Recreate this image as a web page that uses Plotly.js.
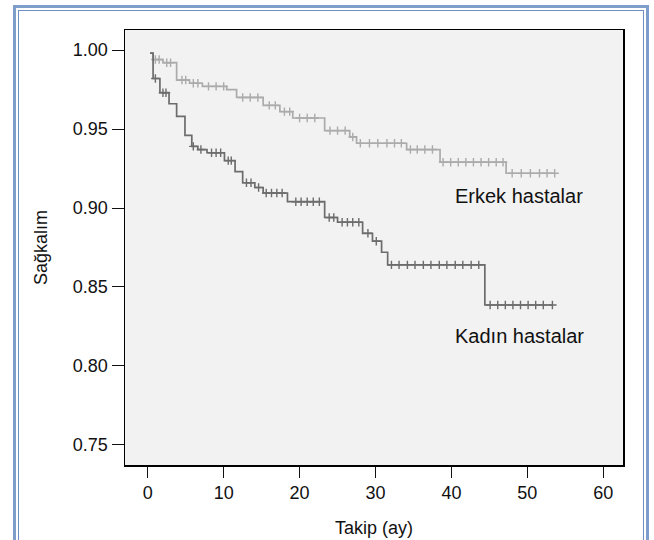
<!DOCTYPE html>
<html>
<head>
<meta charset="utf-8">
<script src="https://cdn.plot.ly/plotly-3.0.1.min.js"></script>
<style>
  html, body { margin: 0; padding: 0; background: #ffffff; }
  #wrap { position: relative; width: 654px; height: 540px; overflow: hidden; }
  #chart { position: absolute; left: 0; top: 0; width: 654px; height: 540px; }
  #frameOuter { position: absolute; left: 13px; top: 5px; width: 630px; height: 600px;
    border: 3px solid #7f9dcc; pointer-events: none; }
  #frameInner { position: absolute; left: 2px; top: 2px; right: 2px; bottom: 2px;
    border: 1px solid #6f8fc4; }
</style>
</head>
<body>
<div id="wrap">
  <div id="chart"></div>
  <div id="frameOuter"><div id="frameInner"></div></div>
</div>
<script>
// Erkek hastalar (male) Kaplan-Meier step curve
var maleTimes = [0.3, 0.7, 2.0, 3.8, 5.5, 7.2, 10.4, 11.7, 15.2, 17.4, 19.1, 23.3, 26.6, 27.5, 34.1, 38.5, 47.2, 53.6];
var maleSurv  = [0.998, 0.994, 0.992, 0.981, 0.979, 0.977, 0.975, 0.970, 0.965, 0.961, 0.957, 0.949, 0.945, 0.941, 0.937, 0.929, 0.922, 0.922];
var maleCensorTimes = [1.0, 1.5, 2.5, 3.0, 4.5, 5.0, 6.0, 6.6, 8.0, 9.0, 10.0, 12.5, 13.5, 14.5, 16.0, 16.8, 18.0, 18.7, 20.0, 21.0, 22.0, 24.0, 25.0, 26.0, 27.0, 28.0, 29.2, 30.3, 31.5, 32.5, 33.4, 34.6, 35.5, 36.5, 37.5, 38.9, 39.9, 40.9, 41.9, 42.9, 43.9, 44.9, 45.9, 46.8, 48.0, 49.2, 50.4, 51.6, 52.6, 53.6];

// Kadın hastalar (female) Kaplan-Meier step curve
var femaleTimes = [0.3, 0.7, 1.6, 2.8, 3.8, 4.9, 5.8, 6.6, 7.8, 10.1, 11.5, 12.5, 14.1, 15.2, 18.4, 23.3, 25.0, 28.3, 29.6, 30.8, 31.6, 44.4, 53.4];
var femaleSurv  = [0.998, 0.982, 0.973, 0.966, 0.958, 0.946, 0.939, 0.937, 0.935, 0.930, 0.923, 0.916, 0.913, 0.9095, 0.904, 0.894, 0.891, 0.884, 0.879, 0.872, 0.864, 0.8386, 0.8386];
var femaleCensorTimes = [1.0, 2.0, 2.4, 6.0, 7.0, 8.4, 9.0, 9.6, 10.6, 11.0, 13.0, 13.6, 14.6, 15.6, 16.3, 17.0, 17.7, 19.5, 20.2, 21.0, 21.8, 22.6, 23.9, 24.5, 25.6, 26.3, 27.0, 27.8, 29.0, 30.1, 32.1, 33.1, 34.2, 35.2, 36.3, 37.3, 38.4, 39.4, 40.5, 41.5, 42.6, 43.6, 45.1, 46.1, 47.1, 48.1, 49.1, 50.1, 51.1, 52.1, 53.3];

var xTickVals = [0, 10, 20, 30, 40, 50, 60];
var yTickVals = [0.75, 0.80, 0.85, 0.90, 0.95, 1.00];
var yTickText = ["0.75", "0.80", "0.85", "0.90", "0.95", "1.00"];
var seriesLabels = ["Erkek hastalar", "Kadın hastalar"];

// survival value at a censor time from the step function
function survAt(times, surv, t) {
  var v = surv[0];
  for (var i = 0; i < times.length; i++) { if (times[i] <= t + 1e-9) v = surv[i]; }
  return v;
}
var maleCensorSurv = maleCensorTimes.map(function (t) { return survAt(maleTimes, maleSurv, t); });
var femaleCensorSurv = femaleCensorTimes.map(function (t) { return survAt(femaleTimes, femaleSurv, t); });

var maleColor = '#ababab';
var femaleColor = '#6c6c6c';

var traces = [
  { x: maleTimes, y: maleSurv, mode: 'lines', line: { shape: 'hv', color: maleColor, width: 1.7 }, hoverinfo: 'skip' },
  { x: maleCensorTimes, y: maleCensorSurv, mode: 'markers',
    marker: { symbol: 'cross-thin-open', size: 6, color: maleColor, line: { color: maleColor, width: 1.4 } }, hoverinfo: 'skip' },
  { x: femaleTimes, y: femaleSurv, mode: 'lines', line: { shape: 'hv', color: femaleColor, width: 1.7 }, hoverinfo: 'skip' },
  { x: femaleCensorTimes, y: femaleCensorSurv, mode: 'markers',
    marker: { symbol: 'cross-thin-open', size: 6, color: femaleColor, line: { color: femaleColor, width: 1.4 } }, hoverinfo: 'skip' }
];

var fontFam = 'Liberation Sans, Arial, Helvetica, sans-serif';

var layout = {
  width: 654, height: 540,
  margin: { l: 125, r: 31, t: 30, b: 75 },
  paper_bgcolor: '#ffffff',
  plot_bgcolor: '#f2f2f2',
  showlegend: false,
  font: { family: fontFam, color: '#111111', size: 18 },
  xaxis: {
    range: [-3.0, 62.6], tickvals: xTickVals, ticks: 'outside', ticklen: 11, tickwidth: 1, tickcolor: '#111',
    showgrid: false, zeroline: false, showline: true, linecolor: '#000', linewidth: 1.5, mirror: true,
    tickfont: { size: 18, family: fontFam },
    title: { text: 'Takip (ay)', font: { size: 18, family: fontFam }, standoff: 19 }
  },
  yaxis: {
    range: [0.7373, 1.0127], tickvals: yTickVals, ticktext: yTickText, ticks: 'outside', ticklen: 12, tickwidth: 1, tickcolor: '#111',
    showgrid: false, zeroline: false, showline: true, linecolor: '#000', linewidth: 1.5, mirror: true,
    tickfont: { size: 18, family: fontFam },
    title: { text: 'Sağkalım', font: { size: 18, family: fontFam }, standoff: 20 }
  },
  annotations: [
    { x: maleTimes[maleTimes.length - 1], y: maleSurv[maleSurv.length - 1], xref: 'x', yref: 'y', text: seriesLabels[0],
      showarrow: false, xanchor: 'center', yanchor: 'middle', xshift: -36, yshift: -23, font: { size: 20, family: fontFam, color: '#111' } },
    { x: femaleTimes[femaleTimes.length - 1], y: femaleSurv[femaleSurv.length - 1], xref: 'x', yref: 'y', text: seriesLabels[1],
      showarrow: false, xanchor: 'center', yanchor: 'middle', xshift: -34, yshift: -31, font: { size: 20, family: fontFam, color: '#111' } }
  ]
};

Plotly.newPlot('chart', traces, layout, { displayModeBar: false, staticPlot: true });
</script>
</body>
</html>
